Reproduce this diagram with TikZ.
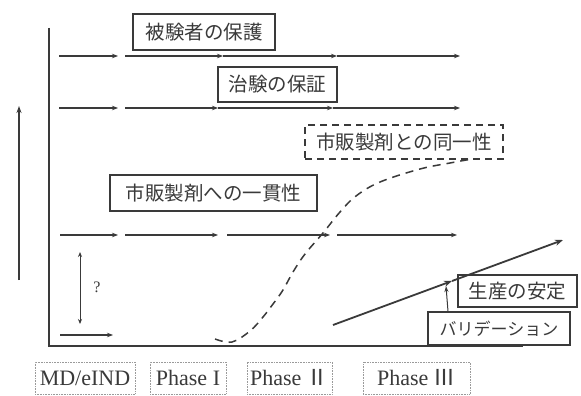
\documentclass[tikz,border=0pt]{standalone}
\usepackage{fontspec}
\setmainfont{Liberation Serif}
\newfontfamily\cjk{Noto Sans CJK JP}
\usetikzlibrary{arrows.meta}
\definecolor{ink}{HTML}{3A3A3A}
\definecolor{lightink}{HTML}{9A9A9A}
\tikzset{
  jbox/.style={draw=ink, line width=1.4pt, inner sep=0pt, font=\cjk\fontsize{19.5}{19.5}\selectfont, text=ink},
  jdash/.style={jbox, dashed, dash pattern=on 7pt off 5pt, line width=1.3pt},
  lbox/.style={draw=lightink, line width=0.6pt, densely dotted, inner sep=0pt, minimum height=32pt, font=\fontsize{22}{22}\selectfont, text=ink},
  flow/.style={draw=ink, line width=1.2pt, -{Stealth[length=6pt,width=4.5pt]}},
  axis/.style={draw=ink, line width=1.8pt},
  curve/.style={draw=ink, line width=1.5pt, dash pattern=on 8pt off 6pt},
  prod/.style={draw=ink, line width=1.8pt, -{Stealth[length=8pt,width=6pt]}}
}
\begin{document}
\begin{tikzpicture}[x=1pt,y=-1pt]
\useasboundingbox (0,0) rectangle (581,396);
\fill[white] (0,0) rectangle (581,396);

% boxes
\node[jbox, minimum width=142pt, minimum height=36pt] (prot) at (204,32) {被験者の保護};
\node[jbox, minimum width=119pt, minimum height=35pt] (guar) at (277.5,84.5) {治験の保証};
\node[jdash, minimum width=198pt, minimum height=34pt] (same) at (404,142) {市販製剤との同一性};
\node[jbox, minimum width=207pt, minimum height=36pt] (cons) at (213.5,193) {市販製剤への一貫性};

% axis
\coordinate (ax1) at (49,28);
\coordinate (ax2) at (49,346);
\coordinate (ax3) at (523,346);
\draw[axis] (ax1) -- (ax2) -- (ax3);

% left arrow
\coordinate (la1) at (19,280);
\coordinate (la2) at (19,106);
\draw[draw=ink, line width=1.5pt, -{Stealth[length=7pt,width=5pt]}] (la1) -- (la2);

% row 1
\foreach \a/\b [count=\i] in {59/118,125/223,223/337,337/460}{
  \coordinate (r1s\i) at (\a,56); \coordinate (r1e\i) at (\b,56);
  \draw[flow] (r1s\i) -- (r1e\i);}
% row 2
\foreach \a/\b [count=\i] in {59/118,125/218,218/333,333/460}{
  \coordinate (r2s\i) at (\a,108); \coordinate (r2e\i) at (\b,108);
  \draw[flow] (r2s\i) -- (r2e\i);}
% row 3
\foreach \a/\b [count=\i] in {60/118,125/218,227/330,337/457}{
  \coordinate (r3s\i) at (\a,235); \coordinate (r3e\i) at (\b,235);
  \draw[flow] (r3s\i) -- (r3e\i);}
% row 4
\coordinate (r4s) at (60,335); \coordinate (r4e) at (113,335);
\draw[flow] (r4s) -- (r4e);

% question arrow
\coordinate (q1) at (80,252); \coordinate (q2) at (80,324);
\draw[draw=ink, line width=1pt, {Stealth[length=5pt,width=4pt]}-{Stealth[length=5pt,width=4pt]}] (q1) -- (q2);
\node[text=ink, font=\fontsize{16}{16}\selectfont] (qm) at (97,287) {?};

% dashed S-curve
\draw[curve] plot[smooth, tension=0.6] coordinates {(215,339) (232,342) (250,331) (263,317) (273,304) (283,290) (293,272) (305,254) (323,233) (340,212) (356,196) (380,182) (420,169) (450,163) (472,159)};

% production
\node[jbox, line width=2pt, minimum width=119pt, minimum height=32pt, fill=white] (stab) at (517.5,291) {生産の安定};
\node[jbox, minimum width=142pt, minimum height=33pt, fill=white, font=\cjk\fontsize{17}{17}\selectfont] (vali) at (499,328.5) {バリデーション};
\coordinate (p1) at (333,325);
\coordinate (p2) at (452,281);
\coordinate (p3) at (563,240);
\draw[prod] (p1) -- (p2);
\draw[prod] (p2) -- (p3);
\coordinate (vtop) at (446,286);
\draw[draw=ink, line width=1pt, -{Stealth[length=6pt,width=4pt]}] (vali.north -| 448,0) -- (vtop);

% phase labels
\node[lbox, minimum width=100pt] (md) at (85,378) {MD/eIND};
\node[lbox, minimum width=76pt] (ph1) at (188,378) {Phase I};
\node[lbox, minimum width=85pt] (ph2) at (289.5,378) {Phase {\cjk Ⅱ}};
\node[lbox, minimum width=107pt] (ph3) at (416.5,378) {Phase {\cjk Ⅲ}};
\end{tikzpicture}
\end{document}
